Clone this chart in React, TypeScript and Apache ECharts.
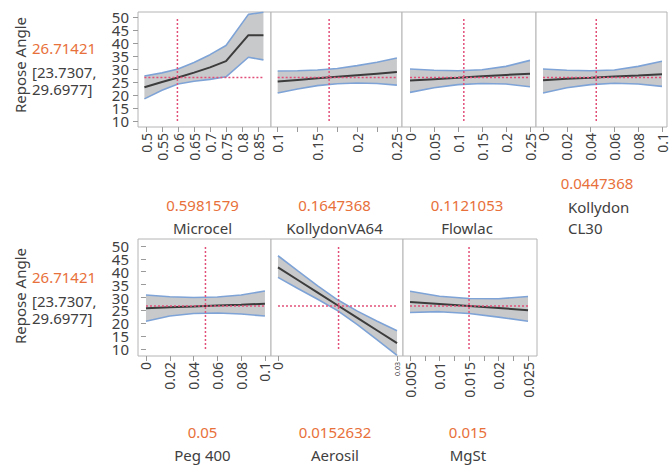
import React, { useEffect, useRef } from "react";
import * as echarts from "echarts";

// ---------- data ----------
const responseName = "Repose Angle";
const predictedText = "26.71421";
const ciLowText = "[23.7307,";
const ciHighText = "29.6977]";
const predictedValue = 26.71421;

const factorNames = ["Microcel", "KollydonVA64", "Flowlac", "Kollydon CL30", "Peg 400", "Aerosil", "MgSt"];
const factorCurrent = [0.5981579, 0.1647368, 0.1121053, 0.0447368, 0.05, 0.0152632, 0.015];
const factorCurrentText = ["0.5981579", "0.1647368", "0.1121053", "0.0447368", "0.05", "0.0152632", "0.015"];

const yTicks = [10, 15, 20, 25, 30, 35, 40, 45, 50];

// Microcel
const microcelX = [0.495, 0.55, 0.6, 0.65, 0.7, 0.75, 0.82, 0.867];
const microcelMid = [23.0, 25.0, 26.7, 28.6, 30.6, 33.0, 43.0, 43.0];
const microcelUp = [27.3, 28.5, 30.0, 32.5, 35.5, 39.0, 51.0, 51.8];
const microcelLo = [18.5, 21.8, 24.2, 25.3, 26.0, 27.0, 34.5, 33.5];
const microcelTicks = [0.5, 0.55, 0.6, 0.65, 0.7, 0.75, 0.8, 0.85];

// KollydonVA64
const kva64X = [0.1, 0.125, 0.15, 0.175, 0.2, 0.225, 0.25];
const kva64Mid = [25.2, 25.8, 26.4, 27.0, 27.6, 28.2, 28.8];
const kva64Up = [29.2, 29.3, 29.6, 30.2, 31.3, 32.6, 34.2];
const kva64Lo = [20.8, 22.3, 23.6, 24.3, 24.6, 24.4, 23.8];
const kva64Ticks = [0.1, 0.15, 0.2, 0.25];
const kva64MinorTicks = [0.125, 0.175, 0.225];

// Flowlac
const flowlacX = [0, 0.05, 0.1, 0.15, 0.2, 0.25];
const flowlacMid = [25.6, 26.1, 26.6, 27.2, 27.7, 28.2];
const flowlacUp = [30.0, 29.5, 29.3, 29.7, 31.0, 33.3];
const flowlacLo = [21.0, 22.8, 24.0, 24.4, 24.2, 23.2];
const flowlacTicks = [0, 0.05, 0.1, 0.15, 0.2, 0.25];

// Kollydon CL30
const cl30X = [0, 0.02, 0.04, 0.06, 0.08, 0.1];
const cl30Mid = [25.7, 26.2, 26.6, 27.1, 27.5, 28.0];
const cl30Up = [30.0, 29.5, 29.3, 29.6, 31.0, 33.0];
const cl30Lo = [20.8, 22.8, 24.0, 24.5, 24.2, 23.3];
const cl30Ticks = [0, 0.02, 0.04, 0.06, 0.08, 0.1];

// Peg 400
const pegX = [0, 0.02, 0.04, 0.06, 0.08, 0.1];
const pegMid = [25.8, 26.2, 26.5, 26.9, 27.2, 27.6];
const pegUp = [31.0, 30.3, 30.0, 30.2, 31.0, 32.5];
const pegLo = [20.8, 22.8, 23.8, 24.0, 23.6, 22.8];
const pegTicks = [0, 0.02, 0.04, 0.06, 0.08, 0.1];

// Aerosil
const aerosilX = [0, 0.005, 0.01, 0.015, 0.02, 0.025, 0.03];
const aerosilMid = [41.7, 36.8, 31.9, 27.0, 22.1, 17.2, 12.3];
const aerosilUp = [46.2, 40.3, 34.5, 29.1, 24.7, 20.8, 17.1];
const aerosilLo = [37.8, 33.5, 29.3, 24.9, 19.5, 13.6, 7.5];
const aerosilTicks = [0, 0.03];

// MgSt
const mgstX = [0.005, 0.01, 0.015, 0.02, 0.025];
const mgstMid = [28.3, 27.5, 26.7, 25.9, 25.1];
const mgstUp = [32.4, 30.5, 29.6, 29.5, 30.4];
const mgstLo = [24.2, 24.5, 23.8, 22.4, 20.8];
const mgstTicks = [0.005, 0.01, 0.015, 0.02, 0.025];
const mgstMinorTicks = [0.0075, 0.0125, 0.0175, 0.0225];

// ---------- layout ----------
const FONT = "Noto Sans";
const ORANGE = "#e8703a";
const TXT = "#404040";
const RED = "#e2507a";

type Panel = {
  x: number[]; mid: number[]; up: number[]; lo: number[];
  ticks: number[]; minor: number[];
  left: number; width: number; top: number; height: number;
  xmin: number; xmax: number; ymin: number; ymax: number; first: boolean;
};

const panels: Panel[] = [
  { x: microcelX, mid: microcelMid, up: microcelUp, lo: microcelLo, ticks: microcelTicks, minor: [], left: 138, width: 133, top: 12, height: 115, xmin: 0.475, xmax: 0.8906, ymin: 7.7, ymax: 51.9, first: true },
  { x: kva64X, mid: kva64Mid, up: kva64Up, lo: kva64Lo, ticks: kva64Ticks, minor: kva64MinorTicks, left: 271, width: 131, top: 12, height: 115, xmin: 0.0916, xmax: 0.2564, ymin: 7.7, ymax: 51.9, first: false },
  { x: flowlacX, mid: flowlacMid, up: flowlacUp, lo: flowlacLo, ticks: flowlacTicks, minor: [], left: 402, width: 134, top: 12, height: 115, xmin: -0.0167, xmax: 0.2625, ymin: 7.7, ymax: 51.9, first: false },
  { x: cl30X, mid: cl30Mid, up: cl30Up, lo: cl30Lo, ticks: cl30Ticks, minor: [], left: 536, width: 131, top: 12, height: 115, xmin: -0.0059, xmax: 0.1042, ymin: 7.7, ymax: 51.9, first: false },
  { x: pegX, mid: pegMid, up: pegUp, lo: pegLo, ticks: pegTicks, minor: [], left: 138, width: 133, top: 239, height: 117, xmin: -0.0067, xmax: 0.1051, ymin: 7.3, ymax: 52.7, first: true },
  { x: aerosilX, mid: aerosilMid, up: aerosilUp, lo: aerosilLo, ticks: aerosilTicks, minor: [], left: 271, width: 132, top: 239, height: 117, xmin: -0.00176, xmax: 0.0315, ymin: 7.3, ymax: 52.7, first: false },
  { x: mgstX, mid: mgstMid, up: mgstUp, lo: mgstLo, ticks: mgstTicks, minor: mgstMinorTicks, left: 403, width: 134, top: 239, height: 117, xmin: 0.00381, xmax: 0.02652, ymin: 7.3, ymax: 52.7, first: false },
];

function buildOption() {
  const grid: any[] = [];
  const xAxis: any[] = [];
  const yAxis: any[] = [];
  const series: any[] = [];

  panels.forEach((p, i) => {
    grid.push({
      left: p.left, top: p.top, width: p.width, height: p.height,
      show: true, borderColor: "#b4b4b4", borderWidth: 1, backgroundColor: "#ffffff",
    });
    const isAerosil = i === 5;
    xAxis.push({
      type: "value", gridIndex: i, min: p.xmin, max: p.xmax,
      splitLine: { show: false },
      axisLine: { show: false },
      axisTick: { show: true, inside: false, length: 5, lineStyle: { color: "#9a9a9a" }, customValues: [...p.ticks, ...p.minor] },
      axisLabel: {
        show: true, rotate: 90, margin: 6, fontSize: 14, color: TXT, fontFamily: FONT,
        customValues: p.ticks, showMinLabel: true, showMaxLabel: true,
        formatter: (v: number) => {
          const s = String(Math.round(v * 100000) / 100000);
          return isAerosil && v > 0 ? "{s|" + s + "}" : s;
        },
        rich: { s: { fontSize: 7, color: TXT, fontFamily: FONT } },
      },
    });
    yAxis.push({
      type: "value", gridIndex: i, min: p.ymin, max: p.ymax,
      splitLine: { show: false },
      axisLine: { show: false },
      axisTick: { show: p.first, length: 5, lineStyle: { color: "#9a9a9a" }, customValues: yTicks },
      axisLabel: { show: false },
    });

    series.push({
      type: "custom", xAxisIndex: i, yAxisIndex: i, clip: true, silent: true, z: 1,
      data: [[p.x[0], p.mid[0]]],
      renderItem: (_params: any, api: any) => {
        const upper = p.x.map((x, k) => api.coord([x, p.up[k]]));
        const lower = p.x.map((x, k) => api.coord([x, p.lo[k]])).reverse();
        return { type: "polygon", shape: { points: upper.concat(lower) }, style: { fill: "#c8c9cb" } };
      },
    });
    series.push({
      type: "line", xAxisIndex: i, yAxisIndex: i, data: p.x.map((x, k) => [x, p.up[k]]),
      symbol: "none", lineStyle: { color: "#7ea3d6", width: 1.6 }, z: 2,
    });
    series.push({
      type: "line", xAxisIndex: i, yAxisIndex: i, data: p.x.map((x, k) => [x, p.lo[k]]),
      symbol: "none", lineStyle: { color: "#7ea3d6", width: 1.6 }, z: 2,
    });
    series.push({
      type: "line", xAxisIndex: i, yAxisIndex: i, data: p.x.map((x, k) => [x, p.mid[k]]),
      symbol: "none", lineStyle: { color: "#3c3c3c", width: 2 }, z: 3,
    });
    series.push({
      type: "line", xAxisIndex: i, yAxisIndex: i,
      data: [[p.x[0], predictedValue], [p.x[p.x.length - 1], predictedValue]],
      symbol: "none", lineStyle: { color: RED, width: 1.5, type: [2, 2] }, z: 4,
    });
    series.push({
      type: "line", xAxisIndex: i, yAxisIndex: i,
      data: [[factorCurrent[i], yTicks[0]], [factorCurrent[i], yTicks[yTicks.length - 1]]],
      symbol: "none", lineStyle: { color: RED, width: 1.5, type: [2, 2] }, z: 4,
    });
  });

  const graphic: any[] = [];
  const rowTexts = [
    { yName: 65, yPred: 48, yLo: 72, yHi: 89 },
    { yName: 296, yPred: 277, yLo: 301, yHi: 318 },
  ];
  rowTexts.forEach((r) => {
    graphic.push({ type: "text", x: 20, y: r.yName, rotation: Math.PI / 2,
      style: { text: responseName, fontSize: 15, fill: TXT, fontFamily: FONT, align: "center", verticalAlign: "middle" } });
    graphic.push({ type: "text", x: 32, y: r.yPred,
      style: { text: predictedText, fontSize: 15, fill: ORANGE, fontFamily: FONT, align: "left", verticalAlign: "middle" } });
    graphic.push({ type: "text", x: 32, y: r.yLo,
      style: { text: ciLowText, fontSize: 15, fill: TXT, fontFamily: FONT, align: "left", verticalAlign: "middle" } });
    graphic.push({ type: "text", x: 32, y: r.yHi,
      style: { text: ciHighText, fontSize: 15, fill: TXT, fontFamily: FONT, align: "left", verticalAlign: "middle" } });
  });

  panels.forEach((p, i) => {
    const cx = p.left + p.width / 2;
    if (i === 3) {
      const [w1, w2] = factorNames[i].split(" ");
      graphic.push({ type: "text", x: 597, y: 183,
        style: { text: factorCurrentText[i], fontSize: 15, fill: ORANGE, fontFamily: FONT, align: "center", verticalAlign: "middle" } });
      graphic.push({ type: "text", x: 568, y: 207,
        style: { text: w1, fontSize: 15, fill: TXT, fontFamily: FONT, align: "left", verticalAlign: "middle" } });
      graphic.push({ type: "text", x: 568, y: 228,
        style: { text: w2, fontSize: 15, fill: TXT, fontFamily: FONT, align: "left", verticalAlign: "middle" } });
      return;
    }
    const top = i < 4;
    graphic.push({ type: "text", x: cx - 2, y: top ? 205 : 432,
      style: { text: factorCurrentText[i], fontSize: 15, fill: ORANGE, fontFamily: FONT, align: "center", verticalAlign: "middle" } });
    graphic.push({ type: "text", x: cx - 2, y: top ? 228 : 455,
      style: { text: factorNames[i], fontSize: 15, fill: TXT, fontFamily: FONT, align: "center", verticalAlign: "middle" } });
  });

  return { animation: false, backgroundColor: "#ffffff", grid, xAxis, yAxis, series, graphic };
}

export default function App() {
  const ref = useRef<HTMLDivElement>(null);
  useEffect(() => {
    if (!ref.current) return;
    const chart = echarts.init(ref.current, null, { renderer: "svg" });
    const option: any = buildOption();
    chart.setOption(option);
    // y-axis tick labels placed through the axis scale (ECharts hides crowded ones otherwise)
    const yLabels: any[] = [];
    panels.forEach((p, i) => {
      if (!p.first) return;
      yTicks.forEach((v) => {
        const py = chart.convertToPixel({ yAxisIndex: i } as any, v) as unknown as number;
        yLabels.push({
          type: "text", x: p.left - 9, y: py, z: 10,
          style: { text: String(v), fontSize: 15, fill: TXT, fontFamily: FONT, align: "right", verticalAlign: "middle" },
        });
      });
    });
    chart.setOption({ graphic: [...option.graphic, ...yLabels] });
    return () => chart.dispose();
  }, []);
  return (
    <div
      ref={ref}
      style={{ position: "fixed", left: 0, top: 0, width: 669, height: 465, background: "#fff" }}
    />
  );
}
